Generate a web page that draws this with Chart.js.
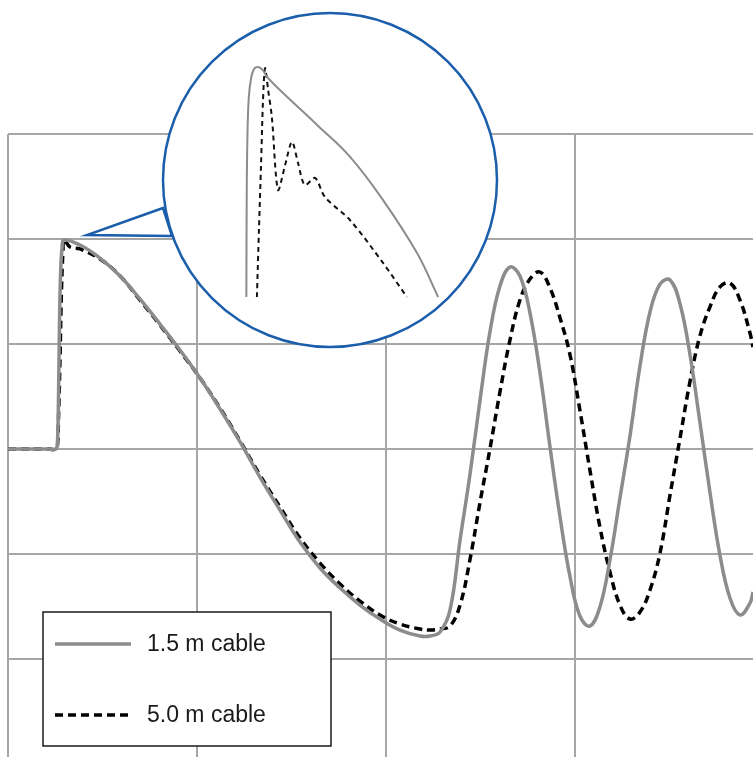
<!DOCTYPE html>
<html>
<head>
<meta charset="utf-8">
<title>Cable length comparison</title>
<script src="https://cdn.jsdelivr.net/npm/chart.js@4"></script>
<style>
  body { margin: 0; background: #fff; }
  #wrap { position: relative; width: 753px; height: 757px; }
  #myChart { position: absolute; left: 0; top: 0; }
  #zoomChart { position: absolute; left: 160px; top: 10px; }
</style>
</head>
<body>
<div id="wrap">
  <canvas id="myChart" width="753" height="757"></canvas>
  <canvas id="zoomChart" width="340" height="340"></canvas>
</div>
<script>
// Data (one grid division = 1 unit on both axes)
const seriesLabels = ['1.5 m cable', '5.0 m cable'];

const shortX = [0, 0.212, 0.254, 0.262, 0.267, 0.272, 0.278, 0.286, 0.296,
    0.381, 0.487, 0.593, 0.698, 0.804, 0.910, 1.016, 1.122, 1.228, 1.333, 1.439, 1.545, 1.651, 1.757, 1.862, 1.968, 2.074, 2.180,
    2.233, 2.286, 2.339, 2.392, 2.444, 2.497, 2.550, 2.603, 2.656, 2.709, 2.762, 2.815, 2.868, 2.921, 2.974, 3.026, 3.079, 3.132,
    3.185, 3.238, 3.291, 3.344, 3.397, 3.450, 3.503, 3.556, 3.608, 3.661, 3.714, 3.767, 3.820, 3.873, 3.926, 3.942];
const shortY = [0, 0, 0, 0.086, 0.467, 1.133, 1.657, 1.914, 1.990,
    1.943, 1.819, 1.648, 1.429, 1.190, 0.943, 0.676, 0.381, 0.067, -0.267, -0.581, -0.886, -1.133, -1.324, -1.486, -1.619, -1.724, -1.781,
    -1.781, -1.743, -1.533, -0.867, -0.248, 0.457, 1.114, 1.552, 1.733, 1.648, 1.295, 0.724, 0.019, -0.648, -1.219, -1.590, -1.686, -1.505,
    -1.057, -0.467, 0.124, 0.790, 1.305, 1.571, 1.610, 1.381, 0.905, 0.257, -0.410, -1.010, -1.419, -1.581, -1.467, -1.362];

const longX = [0, 0.212, 0.254, 0.262, 0.267, 0.275, 0.283, 0.291, 0.296, 0.328,
    0.381, 0.487, 0.593, 0.698, 0.804, 0.910, 1.016, 1.122, 1.228, 1.333, 1.439, 1.545, 1.651, 1.757, 1.862, 1.968, 2.074, 2.180,
    2.233, 2.286, 2.339, 2.392, 2.444, 2.497, 2.550, 2.603, 2.656, 2.709, 2.762, 2.815, 2.868, 2.921, 2.974, 3.026, 3.079, 3.132,
    3.185, 3.238, 3.291, 3.344, 3.397, 3.450, 3.503, 3.556, 3.608, 3.661, 3.714, 3.767, 3.820, 3.873, 3.926, 3.942];
const longY = [0, 0, 0, 0.038, 0.276, 0.848, 1.514, 1.895, 1.990, 1.924,
    1.905, 1.810, 1.648, 1.419, 1.181, 0.933, 0.676, 0.390, 0.076, -0.248, -0.552, -0.848, -1.086, -1.286, -1.448, -1.581, -1.667, -1.714,
    -1.724, -1.714, -1.686, -1.486, -1.057, -0.514, 0, 0.543, 1.038, 1.419, 1.619, 1.686, 1.533, 1.248, 0.895, 0.371, -0.200, -0.743,
    -1.171, -1.486, -1.619, -1.552, -1.343, -0.990, -0.438, 0.105, 0.638, 1.076, 1.352, 1.543, 1.581, 1.419, 1.105, 0.971];

// magnified view of the first peak (arbitrary 0-100 units)
const zoomShortX = [25.4, 25.5, 25.7, 26.1, 26.8, 27.6, 28.5, 30.0, 31.5, 36.2, 46.2, 55.9, 65.6, 75.6, 81.8];
const zoomShortY = [15.6, 44.1, 62.0, 74.0, 80.0, 82.6, 83.2, 82.6, 80.3, 75.6, 66.2, 56.8, 44.1, 28.5, 15.6];
const zoomLongX = [28.5, 29.1, 29.7, 30.3, 30.9, 31.8, 32.9, 34.7, 36.8, 38.8, 40.6, 42.6, 45.6, 48.5, 55.9, 65.6, 72.6];
const zoomLongY = [15.6, 35.3, 53.8, 73.5, 82.9, 76.5, 68.5, 47.1, 54.4, 61.2, 55.0, 48.5, 50.6, 45.0, 38.2, 25.6, 15.6];

const xTicks = [0, 1, 2, 3];
const yTicks = [-2, -1, 0, 1, 2, 3];

const toPoints = (xs, ys) => xs.map((x, i) => ({ x: x, y: ys[i] }));

const blue = '#1b5eab';
const gridGray = '#a6a6a6';
const lineGray = '#8c8c8c';

// callout triangle pointing from the magnifier to the peak
const calloutPlugin = {
    id: 'callout',
    afterDraw(chart) {
        const c = chart.ctx;
        c.save();
        c.beginPath();
        c.moveTo(163, 208);
        c.lineTo(87, 235);
        c.lineTo(172, 236);
        c.closePath();
        c.fillStyle = '#fff';
        c.fill();
        c.strokeStyle = blue;
        c.lineWidth = 2.5;
        c.lineJoin = 'miter';
        c.stroke();
        c.restore();
    }
};

// legend box inside the plot, bottom left
const boxLegend = {
    id: 'boxLegend',
    afterDraw(chart) {
        const c = chart.ctx;
        const left = 43, top = 612, w = 288, h = 134;
        c.save();
        c.fillStyle = '#fff';
        c.fillRect(left, top, w, h);
        c.strokeStyle = '#1a1a1a';
        c.lineWidth = 1.5;
        c.strokeRect(left, top, w, h);
        chart.data.datasets.forEach((ds, i) => {
            const y = top + 32 + i * 71;
            c.beginPath();
            c.setLineDash(ds.borderDash || []);
            c.strokeStyle = ds.borderColor;
            c.lineWidth = ds.borderWidth;
            c.moveTo(left + 12, y);
            c.lineTo(left + 88, y);
            c.stroke();
            c.setLineDash([]);
            c.fillStyle = '#1a1a1a';
            c.font = '23px "Liberation Sans", Arial, sans-serif';
            c.textBaseline = 'middle';
            c.fillText(ds.label, left + 104, y + 1);
        });
        c.restore();
    }
};

const ctx = document.getElementById('myChart');

new Chart(ctx, {
    type: 'line',
    data: {
        datasets: [{
            label: seriesLabels[0],
            data: toPoints(shortX, shortY),
            borderColor: lineGray,
            borderWidth: 3.5,
            pointRadius: 0,
            tension: 0.4
        }, {
            label: seriesLabels[1],
            data: toPoints(longX, longY),
            borderColor: '#000',
            borderWidth: 3.5,
            borderDash: [8, 5],
            pointRadius: 0,
            tension: 0.4
        }]
    },
    options: {
        responsive: false,
        animation: false,
        layout: { padding: { left: 8, top: 134, right: 0, bottom: 0 } },
        plugins: { legend: { display: false }, tooltip: { enabled: false } },
        scales: {
            x: {
                type: 'linear',
                min: 0,
                max: 3.942,
                afterBuildTicks: (scale) => { scale.ticks = xTicks.map(v => ({ value: v })); },
                ticks: { display: false },
                grid: { color: gridGray, lineWidth: 2, drawTicks: false },
                border: { display: false }
            },
            y: {
                min: -2.933,
                max: 3,
                afterBuildTicks: (scale) => { scale.ticks = yTicks.map(v => ({ value: v })); },
                ticks: { display: false },
                grid: { color: gridGray, lineWidth: 2, drawTicks: false },
                border: { display: false }
            }
        }
    },
    plugins: [calloutPlugin, boxLegend]
});

// the round magnifier
const lens = {
    id: 'lens',
    beforeDraw(chart) {
        const c = chart.ctx;
        c.save();
        c.beginPath();
        c.arc(170, 170, 167, 0, Math.PI * 2);
        c.fillStyle = '#fff';
        c.fill();
        c.clip();
    },
    afterDraw(chart) {
        const c = chart.ctx;
        c.restore();
        c.beginPath();
        c.arc(170, 170, 167, 0, Math.PI * 2);
        c.strokeStyle = blue;
        c.lineWidth = 2.5;
        c.stroke();
    }
};

new Chart(document.getElementById('zoomChart'), {
    type: 'line',
    data: {
        datasets: [{
            label: seriesLabels[0],
            data: toPoints(zoomShortX, zoomShortY),
            borderColor: lineGray,
            borderWidth: 2,
            pointRadius: 0,
            tension: 0.4
        }, {
            label: seriesLabels[1],
            data: toPoints(zoomLongX, zoomLongY),
            borderColor: '#111',
            borderWidth: 2,
            borderDash: [5, 4],
            pointRadius: 0,
            tension: 0.3
        }]
    },
    options: {
        responsive: false,
        animation: false,
        layout: { padding: 0 },
        plugins: { legend: { display: false }, tooltip: { enabled: false } },
        scales: {
            x: { type: 'linear', min: 0, max: 100, display: false },
            y: { min: 0, max: 100, display: false }
        }
    },
    plugins: [lens]
});
</script>
</body>
</html>
